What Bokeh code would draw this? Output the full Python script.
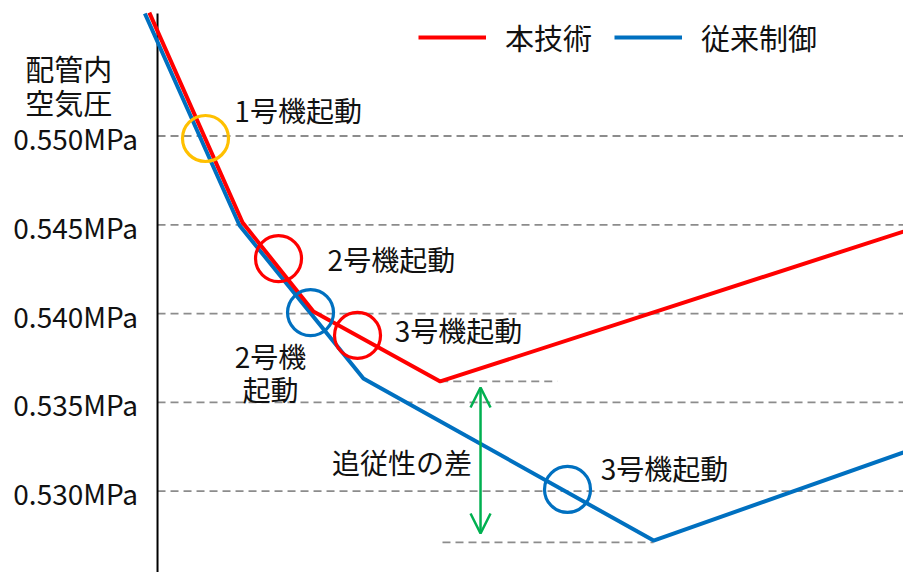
from bokeh.plotting import figure
from bokeh.models import Range1d, Arrow, OpenHead, Legend, LegendItem
from bokeh.core.properties import value
from bokeh.embed import file_html
from bokeh.resources import INLINE

FONT = value("Noto Sans CJK JP")

# ---- data (time in arbitrary units, pressure in MPa) ----
time_red = [-1.1, 11.4, 20.9, 37.9, 100.0]
p_red = [0.55695, 0.54513, 0.54012, 0.53618, 0.54462]
time_blue = [-1.7, 11.0, 27.6, 66.5, 100.0]
p_blue = [0.55690, 0.54496, 0.53635, 0.52722, 0.53218]

y_ticks = [0.550, 0.545, 0.540, 0.535, 0.530]
y_tick_labels = ["0.550MPa", "0.545MPa", "0.540MPa", "0.535MPa", "0.530MPa"]
y_title = ["配管内", "空気圧"]
y_title_p = [0.55383, 0.55189]

event_t = [6.43, 16.22, 20.51, 26.81, 54.96]
event_p = [0.54986, 0.54310, 0.54006, 0.53877, 0.53010]
event_colors = ["#FFC000", "#FF0000", "#0070C0", "#FF0000", "#0070C0"]

label_text = ["1号機起動", "2号機起動", "3号機起動", "追従性の差", "3号機起動"]
label_t = [10.3, 22.8, 31.8, 23.4, 59.4]
label_p = [0.55145, 0.54305, 0.53905, 0.53162, 0.53133]
label2_text = ["2号機", "起動"]
label2_t = [15.15, 15.15]
label2_p = [0.53764, 0.53573]

series_names = ["本技術", "従来制御"]

T_MIN, T_MAX = -21.05, 100.0
P_MIN, P_MAX = 0.525422, 0.557630

p = figure(width=903, height=572, output_backend="svg", toolbar_location=None,
           x_range=Range1d(T_MIN, T_MAX), y_range=Range1d(P_MIN, P_MAX),
           min_border=0, outline_line_color=None)
p.axis.visible = False
p.grid.visible = False
p.background_fill_color = "white"

GRID = "#8C8C8C"
# grid lines
p.segment(x0=[0.0] * len(y_ticks), x1=[T_MAX] * len(y_ticks), y0=y_ticks, y1=y_ticks,
          line_color=GRID, line_width=1.8, line_dash="8 5")
# reference lines at minima
p.segment(x0=[time_red[3], time_blue[3] - 28.3], x1=[time_red[3] + 15.7, time_blue[3]],
          y0=[p_red[3], p_blue[3] - 0.0001], y1=[p_red[3], p_blue[3] - 0.0001],
          line_color=GRID, line_width=1.8, line_dash="8 5")

# y axis line
p.segment(x0=[0.0], x1=[0.0], y0=[0.5569], y1=[P_MIN], line_color="black", line_width=2)

# tick labels
p.text(x=[-2.6] * len(y_ticks), y=y_ticks, text=y_tick_labels, text_font=FONT,
       text_font_size="28px", text_align="right", text_baseline="middle",
       text_color="#111111", y_offset=2)
# y title
p.text(x=[-11.9, -11.9], y=y_title_p, text=y_title, text_font=FONT,
       text_font_size="29px", text_align="center", text_baseline="middle",
       text_color="#111111")

# series
r_blue = p.line(time_blue, p_blue, line_color="#0070C0", line_width=4)
r_red = p.line(time_red, p_red, line_color="#FF0000", line_width=4)

# event circles
p.scatter(x=event_t, y=event_p, marker="circle", size=46, fill_color=None,
          line_color=event_colors, line_width=3.2)

# labels
p.text(x=label_t, y=label_p, text=label_text, text_font=FONT, text_font_size="28px",
       text_align="left", text_baseline="middle", text_color="#111111")
p.text(x=label2_t, y=label2_p, text=label2_text, text_font=FONT, text_font_size="28px",
       text_align="center", text_baseline="middle", text_color="#111111")

# green double arrow (difference)
p.add_layout(Arrow(x_start=43.3, x_end=43.3, y_start=0.52762, y_end=0.53584,
                   line_color="#00B050", line_width=2.5,
                   start=OpenHead(size=20, line_color="#00B050", line_width=2.5),
                   end=OpenHead(size=20, line_color="#00B050", line_width=2.5)))

legend = Legend(items=[LegendItem(label=series_names[0], renderers=[r_red]),
                       LegendItem(label=series_names[1], renderers=[r_blue])],
                orientation="horizontal", location=(418, 514),
                glyph_width=68, glyph_height=30, label_height=30,
                label_standoff=19, spacing=22, padding=0, margin=0,
                border_line_color=None, background_fill_alpha=0,
                label_text_font="Noto Sans CJK JP", label_text_font_size="29px",
                label_text_color="#111111")
p.add_layout(legend)

open("out.html", "w").write(file_html(p, INLINE))
